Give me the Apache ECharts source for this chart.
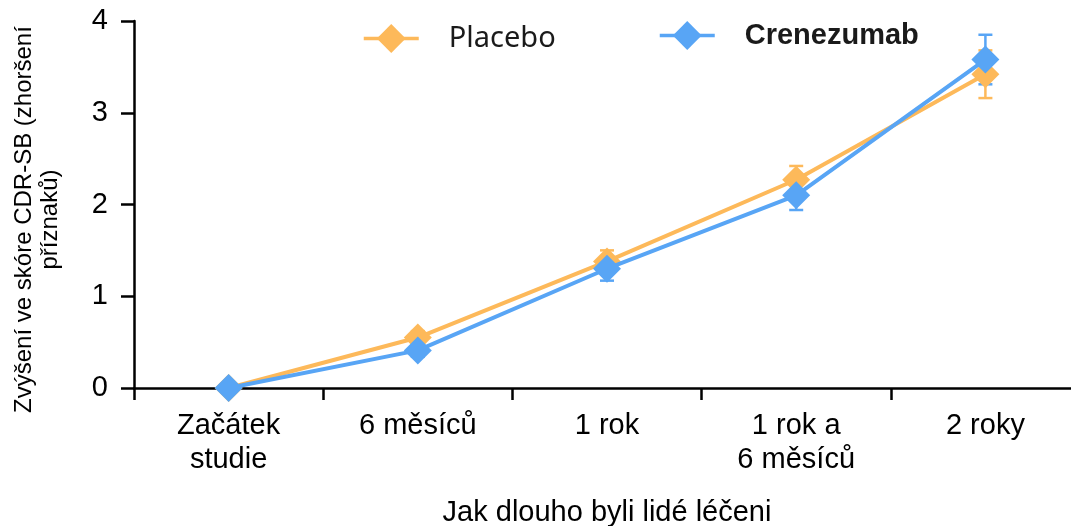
<!DOCTYPE html>
<html>
<head>
<meta charset="utf-8">
<script src="https://cdn.jsdelivr.net/npm/echarts@6/dist/echarts.min.js"></script>
<style>
  html, body { margin: 0; padding: 0; background: #fff; }
  #chart { width: 1071px; height: 526px; }
</style>
</head>
<body>
<div id="chart"></div>
<script>
// data
const categories = ['Začátek\nstudie', '6 měsíců', '1 rok', '1 rok a\n6 měsíců', '2 roky'];
const placebo = [0, 0.55, 1.38, 2.27, 3.42];
const placeboErr = [0, 0.07, 0.12, 0.15, 0.26];
const crenezumab = [0, 0.41, 1.30, 2.10, 3.58];
const crenezumabErr = [0, 0.07, 0.13, 0.16, 0.27];
const yTicks = [0, 1, 2, 3, 4];

const orange = '#FDB95A';
const blue = '#58A5F5';

const errData = (vals, errs) => vals.map((v, i) => [i, v - errs[i], v + errs[i]]);

// error bars: vertical line with short caps
const errorBars = (color) => (params, api) => {
  const lo = api.coord([api.value(0), api.value(1)]);
  const hi = api.coord([api.value(0), api.value(2)]);
  const w = 7;
  const style = { stroke: color, lineWidth: 2.5, fill: null };
  return {
    type: 'group',
    children: [
      { type: 'line', shape: { x1: hi[0], y1: hi[1], x2: lo[0], y2: lo[1] }, style },
      { type: 'line', shape: { x1: hi[0] - w, y1: hi[1], x2: hi[0] + w, y2: hi[1] }, style },
      { type: 'line', shape: { x1: lo[0] - w, y1: lo[1], x2: lo[0] + w, y2: lo[1] }, style }
    ]
  };
};

const myChart = echarts.init(document.getElementById('chart'));

const options = {
  animation: false,
  textStyle: { fontFamily: 'Liberation Sans, Arial' },
  grid: { left: 134, top: 21, right: -9, bottom: 138, containLabel: false, outerBoundsMode: 'none' },
  legend: [
    {
      data: [{ name: 'Placebo', textStyle: { fontFamily: 'Noto Sans', fontSize: 29, color: '#1a1a1a', padding: [0, 0, 0, 25] } }],
      left: 362, top: 24, padding: 0, itemWidth: 55, itemHeight: 36,
      lineStyle: { width: 3.5 }
    },
    {
      data: [{ name: 'Crenezumab', textStyle: { fontFamily: 'Liberation Sans', fontWeight: 'bold', fontSize: 29, color: '#1a1a1a', padding: [0, 0, 0, 25] } }],
      left: 658, top: 21, padding: 0, itemWidth: 55, itemHeight: 36,
      lineStyle: { width: 3.5 }
    }
  ],
  xAxis: {
    type: 'category',
    data: categories,
    boundaryGap: true,
    name: 'Jak dlouho byli lidé léčeni',
    nameLocation: 'middle',
    nameGap: 110,
    nameTextStyle: { fontSize: 29, color: '#000' },
    axisLine: { lineStyle: { color: '#000', width: 2.5 } },
    axisTick: { show: true, length: 12, lineStyle: { color: '#000', width: 2.5 } },
    axisLabel: { fontSize: 29, color: '#000', margin: 21, lineHeight: 34 }
  },
  yAxis: {
    type: 'value',
    min: yTicks[0],
    max: yTicks[yTicks.length - 1],
    interval: 1,
    name: 'Zvýšení ve skóre CDR-SB (zhoršení\npříznaků)',
    nameLocation: 'middle',
    nameGap: 71,
    nameTextStyle: { fontSize: 24, color: '#000', lineHeight: 26, padding: [0, 30, 0, 0] },
    splitLine: { show: false },
    axisLine: { show: true, lineStyle: { color: '#000', width: 2.5 } },
    axisTick: { show: true, length: 13, lineStyle: { color: '#000', width: 2.5 } },
    axisLabel: { fontSize: 29, color: '#000', margin: 26 }
  },
  series: [
    {
      name: 'PlaceboErr',
      type: 'custom',
      renderItem: errorBars(orange),
      data: errData(placebo, placeboErr),
      z: 1,
      silent: true
    },
    {
      name: 'CrenezumabErr',
      type: 'custom',
      renderItem: errorBars(blue),
      data: errData(crenezumab, crenezumabErr),
      z: 1,
      silent: true
    },
    {
      name: 'Placebo',
      type: 'line',
      data: placebo,
      symbol: 'diamond',
      symbolSize: [28, 28],
      lineStyle: { color: orange, width: 4 },
      itemStyle: { color: orange },
      z: 3
    },
    {
      name: 'Crenezumab',
      type: 'line',
      data: crenezumab,
      symbol: 'diamond',
      symbolSize: [28, 28],
      lineStyle: { color: blue, width: 4 },
      itemStyle: { color: blue },
      z: 4
    }
  ]
};

myChart.setOption(options);
</script>
</body>
</html>
